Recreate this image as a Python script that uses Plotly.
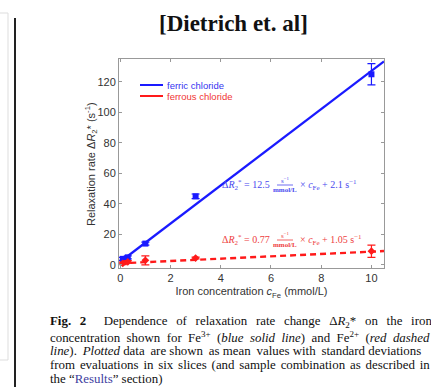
import plotly.graph_objects as go

# ---- data ----
conc_ferric = [0.1, 0.3, 1.0, 3.0, 10.0]
r2_ferric = [4.0, 5.0, 14.0, 45.0, 125.0]
err_ferric = [1.0, 1.0, 1.0, 1.5, 7.0]

conc_ferrous = [0.1, 0.3, 1.0, 3.0, 10.0]
r2_ferrous = [1.0, 2.0, 3.0, 4.5, 9.0]
err_ferrous = [0.8, 0.8, 3.0, 0.6, 4.0]

fit_x = [0.0, 10.5]
fit_ferric = [2.1, 133.4]
fit_ferrous = [1.05, 9.1]

x_ticks = [0, 2, 4, 6, 8, 10]
y_ticks = [0, 20, 40, 60, 80, 100, 120]

series_names = ["ferric chloride", "ferrous chloride"]

BLUE = "#1a1aff"
RED = "#ff1a1a"

W, H = 431, 387
L, R, T, B = 119, 384, 59, 268

def px(x):
    return (x - L) / (R - L)

def py(y):
    return (B - y) / (B - T)

fig = go.Figure()
fig.add_trace(go.Scatter(x=fit_x, y=fit_ferric, mode="lines",
                         line=dict(color=BLUE, width=2.2), name=series_names[0]))
fig.add_trace(go.Scatter(x=fit_x, y=fit_ferrous, mode="lines",
                         line=dict(color=RED, width=2.4, dash="6px,4px"), name=series_names[1]))
fig.add_trace(go.Scatter(x=conc_ferric, y=r2_ferric, mode="markers", showlegend=False,
                         marker=dict(color=BLUE, size=6, symbol="square"),
                         error_y=dict(type="data", array=err_ferric, color=BLUE,
                                      thickness=1.2, width=4)))
fig.add_trace(go.Scatter(x=conc_ferrous, y=r2_ferrous, mode="markers", showlegend=False,
                         marker=dict(color=RED, size=6, symbol="diamond"),
                         error_y=dict(type="data", array=err_ferrous, color=RED,
                                      thickness=1.2, width=4)))

axis_common = dict(showline=True, linecolor="#999999", linewidth=1, mirror="ticks",
                   ticks="inside", ticklen=3, tickcolor="#999999",
                   showgrid=False, zeroline=False,
                   tickfont=dict(family="Liberation Sans, Arial", size=11, color="#333333"))

fig.update_xaxes(range=[-0.05, 10.5], tickvals=x_ticks, **axis_common,
                 title=dict(text="Iron concentration <i>c</i><sub>Fe</sub> (mmol/L)",
                            font=dict(family="Liberation Sans, Arial", size=11, color="#333333"),
                            standoff=4))
fig.update_yaxes(range=[-2, 135], tickvals=y_ticks, **axis_common)

ann = []
# y-axis title
ann.append(dict(text="Relaxation rate Δ<i>R</i><sub>2</sub>* (s<sup>-1</sup>)", x=px(91), y=py(164),
                xref="paper", yref="paper", showarrow=False, textangle=-90,
                font=dict(family="Liberation Sans, Arial", size=11, color="#333333"),
                xanchor="center", yanchor="middle"))
# title
ann.append(dict(text="<b>[Dietrich et. al]</b>", x=px(233), y=py(24), xref="paper", yref="paper",
                showarrow=False, font=dict(family="Liberation Serif, Times New Roman", size=23, color="#111111"),
                xanchor="center", yanchor="middle"))

# legend (drawn manually for compact MATLAB look)
shapes = []
for name, c, tc, yy in ((series_names[0], BLUE, "#3535f0", 85), (series_names[1], RED, "#f03535", 96)):
    shapes.append(dict(type="line", xref="paper", yref="paper", x0=px(140), x1=px(163),
                       y0=py(yy), y1=py(yy), line=dict(color=c, width=2)))
    ann.append(dict(text=name, x=px(165), y=py(yy), xref="paper", yref="paper", showarrow=False,
                    font=dict(family="Liberation Sans, Arial", size=9.5, color=tc),
                    xanchor="left", yanchor="middle"))

# equations
def equation(y_pix, color, coef, icpt):
    f = dict(family="Liberation Serif, DejaVu Serif", size=10, color=color)
    fs = dict(family="Liberation Serif, DejaVu Serif", size=7, color=color)
    out = []
    out.append(dict(text=f"Δ<i>R</i><sub>2</sub><sup>*</sup> = {coef}", x=px(272), y=py(y_pix),
                    xref="paper", yref="paper", showarrow=False, font=f,
                    xanchor="right", yanchor="middle"))
    out.append(dict(text="s<sup>−1</sup>", x=px(285), y=py(y_pix - 5), xref="paper", yref="paper",
                    showarrow=False, font=fs, xanchor="center", yanchor="middle"))
    out.append(dict(text="<b>mmol/L</b>", x=px(285), y=py(y_pix + 5), xref="paper", yref="paper",
                    showarrow=False, font=fs, xanchor="center", yanchor="middle"))
    out.append(dict(text=f"× <i>c</i><sub>Fe</sub> + {icpt} s<sup>−1</sup>", x=px(298), y=py(y_pix),
                    xref="paper", yref="paper", showarrow=False, font=f,
                    xanchor="left", yanchor="middle"))
    return out

ann += equation(185, "#4a4aee", "12.5", "2.1")
ann += equation(240, "#ee4040", "0.77", "1.05")
for y_pix, c in ((185, "#4a4aee"), (240, "#ee4040")):
    shapes.append(dict(type="line", xref="paper", yref="paper", x0=px(277), x1=px(293),
                       y0=py(y_pix), y1=py(y_pix), line=dict(color=c, width=0.8)))

# caption (approximately justified)
cap_font = dict(family="Liberation Serif, Times New Roman", size=12.9, color="#111111")
caption = [
    "<span style='word-spacing:5.5px'><b>Fig. 2</b>  Dependence of relaxation rate change Δ<i>R</i><sub>2</sub>* on the iron</span>",
    "<span style='word-spacing:3.2px'>concentration shown for Fe<sup>3+</sup> (<i>blue solid line</i>) and Fe<sup>2+</sup> (<i>red dashed</i></span>",
    "<i>line</i>).\u2009 <i>Plotted</i> data\u2009 are shown\u2009 as mean\u2009 values with\u2009 standard deviations",
    "<span style='word-spacing:1.6px'>from evaluations in six slices (and sample combination as described in</span>",
    "the “<span style='color:#4040a0'>Results</span>” section)",
]
cap_y = [322, 337, 351, 365, 379]
for t, yy in zip(caption, cap_y):
    ann.append(dict(text=t, x=px(48), y=py(yy),
                    xref="paper", yref="paper", showarrow=False,
                    font=cap_font, xanchor="left", yanchor="middle", align="left"))

# page decorations
shapes.append(dict(type="line", xref="paper", yref="paper", x0=px(15), x1=px(15),
                   y0=py(18), y1=py(390), line=dict(color="#222222", width=2)))
shapes.append(dict(type="rect", xref="paper", yref="paper", x0=px(-2), x1=px(8),
                   y0=py(360), y1=py(13), line=dict(color="#dddddd", width=1)))

fig.update_layout(
    width=W, height=H,
    margin=dict(l=L, r=W - R, t=T, b=H - B),
    paper_bgcolor="white", plot_bgcolor="white",
    showlegend=False,
    annotations=ann, shapes=shapes,
)

fig.write_html("out.html", config={"displayModeBar": False},
               post_script="document.body.style.margin='0';document.body.style.overflow='hidden';")
